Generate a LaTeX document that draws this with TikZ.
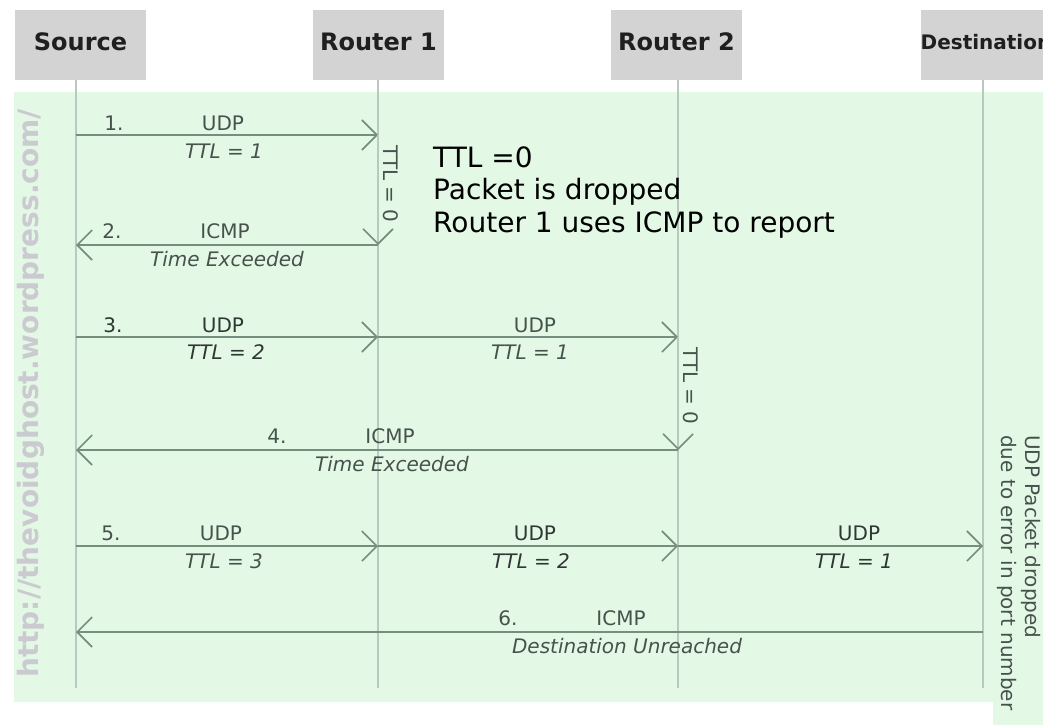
\documentclass[tikz,border=0pt]{standalone}
\usepackage{fontspec}
\setmainfont{DejaVu Sans}
\usetikzlibrary{arrows.meta}

\definecolor{panelgreen}{RGB}{227,249,230}
\definecolor{headgray}{RGB}{211,211,211}
\definecolor{msgline}{RGB}{118,142,126}
\definecolor{lifeline}{RGB}{186,201,191}
\definecolor{labeltext}{RGB}{72,82,76}
\definecolor{labeldark}{RGB}{48,54,51}
\definecolor{wmark}{RGB}{202,202,208}

\tikzset{
  headbox/.style={fill=headgray, draw=none, minimum width=131pt, minimum height=70pt,
    inner sep=0pt, text height=18pt, text depth=6pt, text=black!88,
    font=\fontsize{24}{28}\selectfont\bfseries},
  life/.style={draw=lifeline, line width=1.6pt},
  msg/.style={draw=msgline, line width=2pt,
    -{Straight Barb[length=15pt,width=30pt,line width=1.6pt]}},
  selfmsg/.style={draw=lifeline, line width=1.6pt,
    -{Straight Barb[length=15pt,width=30pt,line width=1.6pt,color=msgline]}},
  lab/.style={font=\fontsize{20}{24}\selectfont, text=labeltext, inner sep=0pt, anchor=base},
  ilab/.style={lab, font=\fontsize{20}{24}\selectfont\itshape},
  dark/.style={text=labeldark},
}

\begin{document}
\begin{tikzpicture}[x=1pt, y=-1pt]
\useasboundingbox (0,0) rectangle (1043,725);
\clip (0,0) rectangle (1043,725);

% shaded area behind the exchange
\fill[panelgreen] (14,92) -- (1043,92) -- (1043,725) -- (993,725) -- (993,702) -- (14,702) -- cycle;

% watermark
\node[rotate=90, anchor=base west, inner sep=0pt, text=wmark,
      font=\fontsize{28}{32}\selectfont\bfseries] (wm) at (38,678) {http://thevoidghost.wordpress.com/};

% participants
\node[headbox] (src) at (80.5,45) {Source};
\node[headbox] (rt1) at (378.5,45) {Router 1};
\node[headbox] (rt2) at (676.5,45) {Router 2};
\node[headbox, font=\fontsize{20}{24}\selectfont\bfseries, text height=16pt, text depth=8pt] (dst) at (986,45) {Destination};

% lifeline ends
\coordinate (sEnd) at (76,688);
\coordinate (aEnd) at (378,688);
\coordinate (bEnd) at (678,688);
\coordinate (dEnd) at (983,688);

\draw[life] (src.south -| sEnd) -- (sEnd);
\draw[life] (rt1.south -| aEnd) -- (aEnd);
\draw[life] (rt2.south -| bEnd) -- (bEnd);
\draw[life] (dst.south -| dEnd) -- (dEnd);

% message anchor points on the lifelines
\coordinate (s1) at (76,135);  \coordinate (a1) at (378,135);
\coordinate (s2) at (76,245);  \coordinate (a2) at (378,245);
\coordinate (s3) at (76,337);  \coordinate (a3) at (378,337);  \coordinate (b3) at (678,337);
\coordinate (s4) at (76,450);  \coordinate (b4) at (678,450);
\coordinate (s5) at (76,546);  \coordinate (a5) at (378,546);  \coordinate (b5) at (678,546);  \coordinate (d5) at (983,546);
\coordinate (s6) at (76,632);  \coordinate (d6) at (983,632);

% 1. UDP, TTL = 1
\draw[msg] (s1) -- (a1);
\node[lab] (n1) at (114,130) {1.};
\node[lab] (p1) at (223,130) {UDP};
\node[ilab] (t1) at (224,158) {TTL = 1};
\draw[selfmsg] (a1) -- (a2);
\node[lab, rotate=-90, anchor=base west] (z1) at (383,145) {TTL = 0};

% note on the first drop
\node[anchor=north west, align=left, inner sep=0pt, text=black,
      font=\fontsize{28}{32.5}\selectfont] (note) at (433,146.5)
      {TTL =0\\Packet is dropped\\Router 1 uses ICMP to report};

% 2. ICMP Time Exceeded
\draw[msg] (a2) -- (s2);
\node[lab] (n2) at (112,238) {2.};
\node[lab] (p2) at (225,238) {ICMP};
\node[ilab] (t2) at (227,266) {Time Exceeded};

% 3. UDP, TTL = 2
\draw[msg] (s3) -- (a3);
\draw[msg] (a3) -- (b3);
\node[lab, dark] (n3) at (113,332) {3.};
\node[lab, dark] (p3) at (223,332) {UDP};
\node[ilab, dark] (t3) at (226,359) {TTL = 2};
\node[lab] (p3b) at (535,332) {UDP};
\node[ilab] (t3b) at (530,359) {TTL = 1};
\draw[selfmsg] (b3) -- (b4);
\node[lab, rotate=-90, anchor=base west] (z2) at (683,347) {TTL = 0};

% 4. ICMP Time Exceeded
\draw[msg] (b4) -- (s4);
\node[lab] (n4) at (277,443) {4.};
\node[lab] (p4) at (390,443) {ICMP};
\node[ilab] (t4) at (392,471) {Time Exceeded};

% 5. UDP, TTL = 3
\draw[msg] (s5) -- (a5);
\draw[msg] (a5) -- (b5);
\draw[msg] (b5) -- (d5);
\node[lab] (n5) at (111,540) {5.};
\node[lab] (p5) at (221,540) {UDP};
\node[ilab] (t5) at (224,568) {TTL = 3};
\node[lab, dark] (p5b) at (535,540) {UDP};
\node[ilab, dark] (t5b) at (531,568) {TTL = 2};
\node[lab, dark] (p5c) at (859,540) {UDP};
\node[ilab, dark] (t5c) at (854,568) {TTL = 1};

% note at the destination
\node[lab, rotate=-90, anchor=north west, align=left] (drop) at (1041,435)
      {UDP Packet dropped\\due to error in port number};

% 6. ICMP Destination Unreached
\draw[msg] (d6) -- (s6);
\node[lab] (n6) at (508,625) {6.};
\node[lab] (p6) at (621,625) {ICMP};
\node[ilab] (t6) at (627,653) {Destination Unreached};
\end{tikzpicture}
\end{document}
